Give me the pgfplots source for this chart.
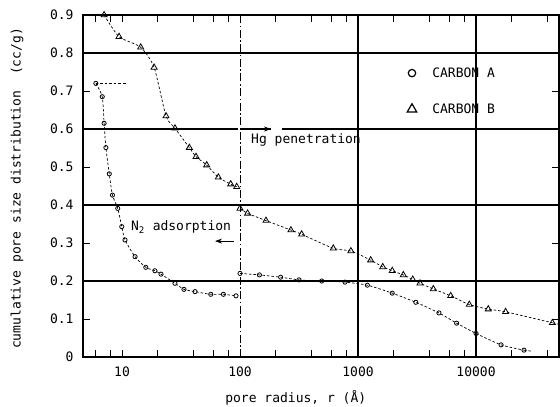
\documentclass[border=0pt]{standalone}
\usepackage{fontspec}
\setmainfont{DejaVu Sans Mono}
\usepackage{pgfplots}
\pgfplotsset{compat=1.18}
\usetikzlibrary{arrows.meta}

\pgfplotsset{
  gridline/.style={black, line width=1.1pt, forget plot},
  tickline/.style={black, line width=0.9pt, forget plot, unbounded coords=jump},
  dataline/.style={black, line width=0.7pt, dash pattern=on 2.5bp off 2bp,
    smooth, tension=0.4, forget plot},
  carbA/.style={dataline, mark=o, mark size=2.1bp,
    mark options={solid, fill=white, line width=0.8pt}},
  carbB/.style={dataline, mark=triangle, mark size=3.5bp,
    mark options={solid, fill=white, line width=0.8pt}},
}

\begin{document}
\begin{tikzpicture}[font=\fontsize{13bp}{15bp}\selectfont]
\begin{axis}[
  name=ax,
  scale only axis, width=476bp, height=342bp,
  xmode=log, xmin=4.67, xmax=50500, ymin=0, ymax=0.9,
  xtick={10,100,1000,10000}, xticklabels={10,100,1000,10000},
  minor xtick={6,8,20,40,60,80,200,400,600,800,2000,4000,6000,8000,20000,40000},
  ytick={0,0.1,0.2,0.3,0.4,0.5,0.6,0.7,0.8,0.9},
  yticklabels={0,0.1,0.2,0.3,0.4,0.5,0.6,0.7,0.8,0.9},
  major tick length=7bp, minor tick length=7bp,
  tick style={black, line width=0.9pt},
  axis line style={line width=1.3pt},
  /pgf/number format/assume math mode=true,
  xticklabel style={yshift=-6bp},
  yticklabel style={xshift=-6bp},
  xlabel={pore radius, r (Å)},
  ylabel={cumulative pore size distribution\ \ (cc/g)},
  xlabel style={at={(axis description cs:0.447,-0.1316)}, anchor=base},
  ylabel style={at={(axis description cs:-0.1387,0.493)}, anchor=center},
  legend cell align=left,
  legend style={draw=none, fill=none, inner sep=0pt,
    at={(axis description cs:0.6807,0.847)}, anchor=north west,
    row sep=25bp, nodes={inner sep=0pt},
    /tikz/every odd column/.append style={column sep=15.6bp}},
]
% tick marks along the frame (bottom, top, left, right)
\addplot[tickline] coordinates {
  (6,0)(6,0.0184) (6,nan) (8,0)(8,0.0184) (8,nan) (10,0)(10,0.0184) (10,nan)
  (20,0)(20,0.0184) (20,nan) (40,0)(40,0.0184) (40,nan) (60,0)(60,0.0184) (60,nan)
  (80,0)(80,0.0184) (80,nan) (100,0)(100,0.0184) (100,nan) (200,0)(200,0.0184) (200,nan)
  (400,0)(400,0.0184) (400,nan) (600,0)(600,0.0184) (600,nan) (800,0)(800,0.0184) (800,nan)
  (2000,0)(2000,0.0184) (2000,nan) (4000,0)(4000,0.0184) (4000,nan)
  (6000,0)(6000,0.0184) (6000,nan) (8000,0)(8000,0.0184) (8000,nan)
  (20000,0)(20000,0.0184) (20000,nan) (40000,0)(40000,0.0184)};
\addplot[tickline] coordinates {
  (6,0.9)(6,0.8816) (6,nan) (8,0.9)(8,0.8816) (8,nan) (10,0.9)(10,0.8816) (10,nan)
  (20,0.9)(20,0.8816) (20,nan) (40,0.9)(40,0.8816) (40,nan) (60,0.9)(60,0.8816) (60,nan)
  (80,0.9)(80,0.8816) (80,nan) (200,0.9)(200,0.8816) (200,nan)
  (400,0.9)(400,0.8816) (400,nan) (600,0.9)(600,0.8816) (600,nan) (800,0.9)(800,0.8816) (800,nan)
  (2000,0.9)(2000,0.8816) (2000,nan) (4000,0.9)(4000,0.8816) (4000,nan)
  (6000,0.9)(6000,0.8816) (6000,nan) (8000,0.9)(8000,0.8816) (8000,nan)
  (20000,0.9)(20000,0.8816) (20000,nan) (40000,0.9)(40000,0.8816)};
\addplot[tickline] coordinates {
  (4.67,0.1)(5.353,0.1) (5,nan) (4.67,0.3)(5.353,0.3) (5,nan)
  (4.67,0.5)(5.353,0.5) (5,nan) (4.67,0.7)(5.353,0.7)};
\addplot[tickline] coordinates {
  (44055,0.1)(50500,0.1) (5,nan) (44055,0.3)(50500,0.3) (5,nan)
  (44055,0.5)(50500,0.5) (5,nan) (44055,0.7)(50500,0.7)};
% grid lines
\addplot[gridline] coordinates {(4.67,0.2) (50500,0.2)};
\addplot[gridline] coordinates {(4.67,0.4) (50500,0.4)};
\addplot[gridline] coordinates {(4.67,0.6) (50500,0.6)};
\addplot[gridline] coordinates {(4.67,0.8) (50500,0.8)};
\addplot[gridline] coordinates {(1000,0) (1000,0.9)};
\addplot[gridline] coordinates {(10000,0) (10000,0.9)};
% vertical dash-dot divider at 100 A
\addplot[forget plot, black, line width=0.9pt,
  dash pattern=on 8bp off 2.5bp on 1.5bp off 2.5bp]
  coordinates {(100,0) (100,0.9)};

% CARBON A, N2 adsorption
\addplot[carbA] coordinates {
  (6.0,0.72) (6.8,0.685) (7.05,0.615) (7.3,0.551) (7.8,0.482)
  (8.3,0.426) (9.2,0.391) (9.95,0.343) (10.6,0.308) (12.9,0.264)
  (15.9,0.236) (19.0,0.227) (21.4,0.218) (28.1,0.194) (33.5,0.178)
  (41.6,0.172) (56.5,0.165) (72.3,0.165) (92.5,0.161)};
% CARBON A, Hg penetration
\addplot[carbA] coordinates {
  (100,0.220) (146,0.216) (221,0.210) (316,0.203) (492,0.200)
  (776,0.197) (1200,0.189) (1950,0.168) (3090,0.144) (4850,0.116)
  (6850,0.089) (10000,0.062) (16300,0.032) (25500,0.018)};
\addplot[dataline] coordinates {(25500,0.018) (30000,0.015)};

% CARBON B, N2 adsorption
\addplot[carbB] coordinates {
  (7.05,0.9) (9.43,0.843) (14.4,0.815) (18.7,0.762) (23.6,0.634)
  (28.1,0.602) (37.2,0.551) (42.4,0.527) (52.2,0.505) (65.5,0.473)
  (83.4,0.455) (93.7,0.448)};
% CARBON B, Hg penetration
\addplot[carbB] coordinates {
  (100,0.391) (116,0.378) (166,0.359) (270,0.334) (333,0.323)
  (617,0.286) (870,0.279) (1280,0.255) (1620,0.237) (1950,0.227)
  (2420,0.216) (2910,0.204) (3350,0.194) (4350,0.179) (6100,0.161)
  (8770,0.138) (12700,0.126) (17800,0.119) (44400,0.090)};
\addplot[dataline] coordinates {(44400,0.090) (50500,0.086)};

% short dashed leaders at the starting values
\addplot[dataline] coordinates {(4.67,0.9) (11.2,0.9)};
\addplot[dataline] coordinates {(6.0,0.72) (10.9,0.72)};

\addlegendimage{only marks, mark=o, mark size=3.7bp, mark options={line width=1.2pt}}
\addlegendentry{CARBON A}
\addlegendimage{only marks, mark=triangle, mark size=5.5bp, mark options={line width=1.2pt}}
\addlegendentry{CARBON B}

% annotations
\draw[white, line width=3pt] (axis cs:183,0.6) -- (axis cs:226,0.6);
\draw[white, line width=3pt] (axis cs:96,0.6) -- (axis cs:99,0.6);
\draw[-{Stealth[length=7bp,width=5bp]}, line width=0.9pt]
  (axis cs:101,0.6) -- (axis cs:183,0.6);
\node[anchor=west, inner sep=0pt] at (axis cs:124,0.571) {Hg penetration};
\draw[-{Stealth[length=7bp,width=5bp]}, line width=0.9pt]
  (axis cs:89,0.305) -- (axis cs:61.4,0.305);
\node[anchor=west, inner sep=0pt] at (axis cs:11.9,0.342) {N\textsubscript{2} adsorption};
\end{axis}
\pgfresetboundingbox
\path ([xshift=-83bp,yshift=-49bp]ax.south west) rectangle ([xshift=1bp,yshift=15bp]ax.north east);
\end{tikzpicture}
\end{document}
